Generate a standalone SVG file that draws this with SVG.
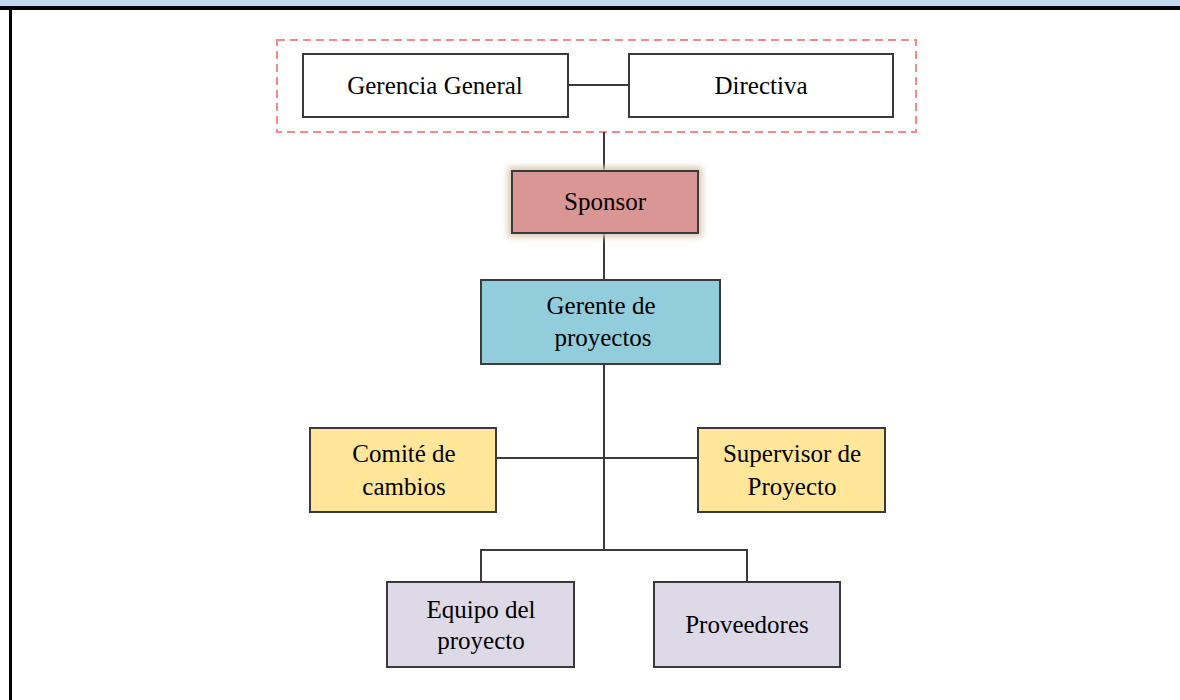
<svg xmlns="http://www.w3.org/2000/svg" width="1180" height="700" viewBox="0 0 1180 700">
<defs>
<style>
.box{stroke:#3a3a3a;stroke-width:2}
.ln{stroke:#3a3a3a;stroke-width:2;fill:none}
.t{font-family:"Liberation Serif","Times New Roman",serif;font-size:25px;fill:#000;text-anchor:middle}
</style>
<filter id="glow" x="-20%" y="-30%" width="140%" height="160%">
<feGaussianBlur stdDeviation="3"/>
</filter>
</defs>
<rect x="0" y="0" width="1180" height="700" fill="#fff"/>
<rect x="0" y="0" width="1180" height="6" fill="#c0d6ec"/>
<rect x="0" y="6" width="1180" height="4" fill="#000"/>
<rect x="9" y="6" width="3" height="694" fill="#000"/>
<rect x="277" y="40" width="639" height="92" fill="none" stroke="#f08c8c" stroke-width="2" stroke-dasharray="8,5"/>
<g id="connectors">
<path class="ln" d="M568 85H629"/>
<path class="ln" d="M604 132V171"/>
<path class="ln" d="M604 233V280"/>
<path class="ln" d="M604 364V550"/>
<path class="ln" d="M496 458H698"/>
<path class="ln" d="M481 582V550H747V582"/>
</g>
<g id="gerencia">
<rect class="box" x="303" y="54" width="265" height="63" fill="#fff"/>
<text class="t" x="435" y="94">Gerencia General</text>
</g>
<g id="directiva">
<rect class="box" x="629" y="54" width="264" height="63" fill="#fff"/>
<text class="t" x="761" y="94">Directiva</text>
</g>
<g id="sponsor">
<rect x="508" y="167" width="194" height="70" fill="#d8c8b0" filter="url(#glow)"/>
<rect class="box" x="512" y="171" width="186" height="62" fill="#d99694"/>
<text class="t" x="605" y="210">Sponsor</text>
</g>
<g id="gerente">
<rect class="box" x="481" y="280" width="239" height="84" fill="#92cddc"/>
<text class="t" x="601" y="314">Gerente de</text>
<text class="t" x="603" y="346">proyectos</text>
</g>
<g id="comite">
<rect class="box" x="310" y="428" width="186" height="84" fill="#ffe699"/>
<text class="t" x="404" y="462">Comité de</text>
<text class="t" x="404" y="495">cambios</text>
</g>
<g id="supervisor">
<rect class="box" x="698" y="428" width="187" height="84" fill="#ffe699"/>
<text class="t" x="792" y="462">Supervisor de</text>
<text class="t" x="792" y="495">Proyecto</text>
</g>
<g id="equipo">
<rect class="box" x="387" y="582" width="187" height="85" fill="#ddd9e6"/>
<text class="t" x="481" y="618">Equipo del</text>
<text class="t" x="481" y="649">proyecto</text>
</g>
<g id="proveedores">
<rect class="box" x="654" y="582" width="186" height="85" fill="#ddd9e6"/>
<text class="t" x="747" y="633">Proveedores</text>
</g>
</svg>
